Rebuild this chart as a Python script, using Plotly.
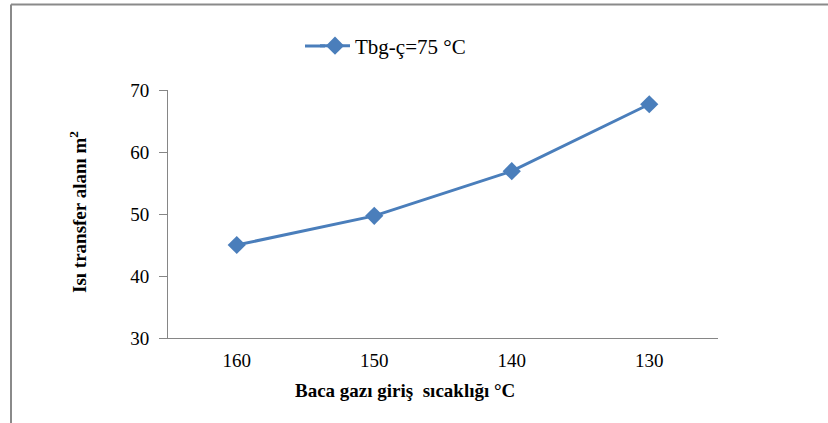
import plotly.graph_objects as go

categories = ["160", "150", "140", "130"]
values = [45.0, 49.7, 56.9, 67.7]
series_name = "Tbg-ç=75 °C"
y_ticks = [30, 40, 50, 60, 70]

L, R, T, B = 168, 110, 90, 85
W, H = 828, 423
pw, ph = W - L - R, H - T - B
SERIF = "Liberation Serif, Times New Roman, serif"
BLUE = "#4a7ebb"

def px(x):
    return (x - L) / pw

def py(y):
    return (H - B - y) / ph

fig = go.Figure()
fig.add_trace(go.Scatter(
    x=categories, y=values, mode="lines+markers", name=series_name,
    line=dict(color=BLUE, width=3),
    marker=dict(symbol="diamond", size=14, color=BLUE),
))

fig.update_layout(
    width=W, height=H,
    margin=dict(l=L, r=R, t=T, b=B),
    paper_bgcolor="white", plot_bgcolor="white",
    font=dict(family=SERIF, size=19, color="#000000"),
    showlegend=True,
    legend=dict(x=px(315), y=py(46), xanchor="left", yanchor="middle",
                orientation="h", font=dict(family=SERIF, size=21, color="#000000"),
                bgcolor="rgba(0,0,0,0)"),
    xaxis=dict(type="category", range=[-0.5, 3.5], showline=True, linecolor="#868686",
               linewidth=1, ticks="", showgrid=False, zeroline=False,
               ticklabelstandoff=5,
               tickfont=dict(family=SERIF, size=19, color="#000000")),
    yaxis=dict(range=[30, 70], tickvals=y_ticks, showline=True, linecolor="#868686",
               linewidth=1, ticks="outside", ticklen=8, tickcolor="#868686",
               showgrid=False, zeroline=False, ticklabelstandoff=6,
               tickfont=dict(family=SERIF, size=19, color="#000000")),
    annotations=[
        dict(text="<b>Isı transfer alanı m<sup>2</sup></b>", xref="paper", yref="paper",
             x=px(78), y=py(212), xanchor="center", yanchor="middle",
             textangle=-90, showarrow=False,
             font=dict(family=SERIF, size=19, color="#000000")),
        dict(text="<b>Baca gazı giriş  sıcaklığı °C</b>", xref="paper", yref="paper",
             x=px(405), y=py(390), xanchor="center", yanchor="middle",
             showarrow=False,
             font=dict(family=SERIF, size=19, color="#000000")),
    ],
    shapes=[
        dict(type="line", xref="paper", yref="paper", x0=px(11), x1=px(840),
             y0=py(4.5), y1=py(4.5), line=dict(color="#8a8a8a", width=2)),
        dict(type="line", xref="paper", yref="paper", x0=px(11), x1=px(11),
             y0=py(4.5), y1=py(440), line=dict(color="#8a8a8a", width=2)),
        dict(type="line", xref="paper", yref="paper", x0=px(305), x1=px(325),
             y0=py(46), y1=py(46), line=dict(color=BLUE, width=3)),
    ],
)

fig.write_html("out.html")
